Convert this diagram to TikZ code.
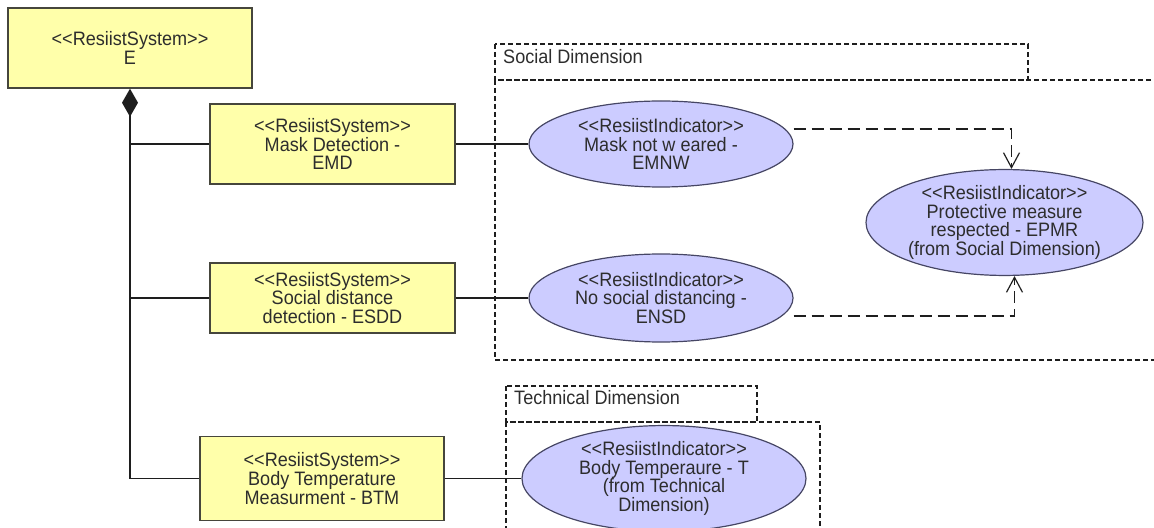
\documentclass[tikz,border=0pt]{standalone}
\usepackage{fontspec}
\setmainfont{Liberation Sans}[FakeStretch=0.93]
\usetikzlibrary{shapes.geometric,arrows.meta}
\definecolor{sysfill}{RGB}{255,255,170}
\definecolor{indfill}{RGB}{204,204,255}
\definecolor{sysedge}{RGB}{70,70,60}
\definecolor{indedge}{RGB}{70,70,100}
\definecolor{txt}{RGB}{45,45,45}
\definecolor{linec}{RGB}{30,30,30}
\newcommand\llt{<\kern0pt<}
\newcommand\ggt{>\kern0pt>}
\begin{document}
\begin{tikzpicture}[x=1bp,y=-1bp,
  every node/.style={font=\fontsize{19.5}{19}\selectfont, text=txt, align=center, inner sep=0pt},
  sysbox/.style={draw=sysedge, fill=sysfill, line width=1.4bp, rectangle},
  indic/.style={draw=indedge, fill=indfill, line width=1.2bp, ellipse},
  conn/.style={draw=linec, line width=1.4bp},
  dep/.style={draw=linec, line width=1.3bp, dash pattern=on 12bp off 6bp,
    -{Straight Barb[length=15bp,width=16bp,line width=1.2bp]}},
  frame/.style={draw=linec, line width=1.1bp, dash pattern=on 5bp off 3bp},
  lbl/.style={anchor=west}]
\useasboundingbox (0,0) rectangle (1154,528);
\clip (0,0) rectangle (1154,528);
% frames
\draw[frame] (495,80) rectangle (1175,360);
\draw[frame] (495,44) rectangle (1028,80);
\node[lbl] (sdlabel) at (503,57) {Social Dimension};
\draw[frame] (506,422) rectangle (820,545);
\draw[frame] (506,386) rectangle (757,422);
\node[lbl] (tdlabel) at (514,398) {Technical Dimension};
% systems
\node[sysbox, minimum width=244bp, minimum height=80bp] (E) at (130,48) {\llt ResiistSystem\ggt\\E};
\node[sysbox, minimum width=245bp, minimum height=80bp] (EMD) at (332.5,144) {\llt ResiistSystem\ggt\\Mask Detection -\\EMD};
\node[sysbox, minimum width=245bp, minimum height=70bp] (ESDD) at (332.5,298) {\llt ResiistSystem\ggt\\Social distance\\detection - ESDD};
\node[sysbox, minimum width=244bp, minimum height=84bp] (BTM) at (322,478.5) {\llt ResiistSystem\ggt\\Body Temperature\\Measurment - BTM};
% indicators
\node[indic, minimum width=264bp, minimum height=86bp] (EMNW) at (661,144) {\llt ResiistIndicator\ggt\\Mask not w eared -\\EMNW};
\node[indic, minimum width=264bp, minimum height=88bp] (ENSD) at (661,298) {\llt ResiistIndicator\ggt\\No social distancing -\\ENSD};
\node[indic, minimum width=277bp, minimum height=105bp] (EPMR) at (1004.5,222.5) {\llt ResiistIndicator\ggt\\Protective measure\\respected - EPMR\\(from Social Dimension)};
\node[indic, minimum width=284bp, minimum height=90bp] (T) at (664,478.5) {\llt ResiistIndicator\ggt\\Body Temperaure - T\\(from Technical\\Dimension)};
% connectors
\coordinate (jb) at (130,478.5);
\draw[conn, {Diamond[length=28bp,width=16bp]}-] (E.south) -- (jb) -- (BTM.west);
\draw[conn] (E.south |- EMD.west) -- (EMD.west);
\draw[conn] (E.south |- ESDD.west) -- (ESDD.west);
\draw[conn] (EMD.east) -- (EMNW.west);
\draw[conn] (ESDD.east) -- (ENSD.west);
\draw[conn] (BTM.east) -- (T.west);
\draw[dep] ([yshift=15bp]EMNW.east) -| ([xshift=7bp]EPMR.north);
\draw[dep] ([yshift=-18bp]ENSD.east) -| ([xshift=10bp]EPMR.south);
\end{tikzpicture}
\end{document}
